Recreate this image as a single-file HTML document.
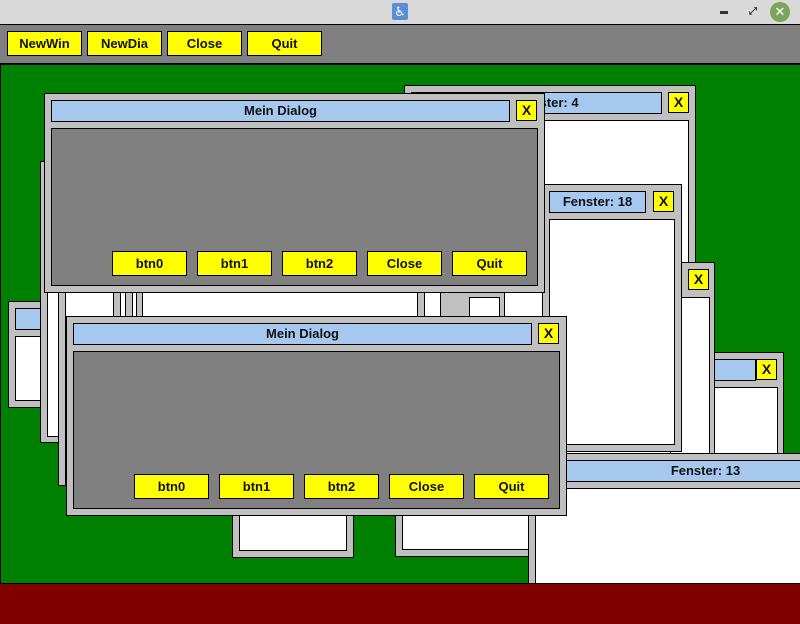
<!DOCTYPE html>
<html><head><meta charset="utf-8"><style>
*{margin:0;padding:0;box-sizing:border-box}
html,body{width:800px;height:624px;overflow:hidden}
body{position:relative;background:#008000;font-family:"Liberation Sans","DejaVu Sans",sans-serif;font-weight:bold;font-size:13px;color:#111}
#r{position:absolute;left:0;top:0;width:800px;height:624px;overflow:hidden}
div{position:absolute}
.w{background:#c0c0c0;border:1px solid #000;overflow:hidden}
.tb{background:#a6c8ee;border:1px solid #000;height:22px;line-height:20px;text-align:center;white-space:nowrap;overflow:hidden}
.x{background:#ff0;border:1px solid #000;width:21px;height:21px;line-height:19px;text-align:center;font-size:14px}
.ct{background:#fff;border:1px solid #000}
.dg{background:#808080;border:1px solid #000}
.b{background:#ff0;border:1px solid #000;height:25px;line-height:23px;text-align:center;width:75px}
.s{background:#c0c0c0;border:1px solid #000}
</style></head><body><div id="r">
<div style="left:0;top:0;width:800px;height:24px;background:#d9d9d9"></div>
<div style="left:392px;top:3px;width:16px;height:17px;background:#5c8fd8;color:#fff;font-size:13px;line-height:17px;text-align:center;border-radius:2px">♿</div>
<div style="left:720px;top:11px;width:8px;height:3px;background:#333"></div>
<div style="left:749px;top:8px;width:8px;height:8px;color:#333;font-size:10px;line-height:8px">⤢</div>
<div style="left:770px;top:2px;width:20px;height:20px;border-radius:50%;background:#7da55a;color:#fff;text-align:center;line-height:20px;font-size:13px">✕</div>
<div style="left:0;top:24px;width:800px;height:41px;background:#808080;border-top:1px solid #000;border-bottom:2px solid #000"></div>
<div class="b" style="left:7px;top:31px">NewWin</div>
<div class="b" style="left:87px;top:31px">NewDia</div>
<div class="b" style="left:167px;top:31px">Close</div>
<div class="b" style="left:247px;top:31px">Quit</div>
<div style="left:0;top:65px;width:1px;height:520px;background:#000"></div>

<div class="w" style="left:404px;top:85px;width:292px;height:400px"><div class="tb" style="left:6px;top:6px;width:251px;padding-left:22px">Fenster: 4</div><div class="x" style="left:263px;top:6px">X</div><div class="ct" style="left:6px;top:34px;width:278px;height:360px"></div></div>

<div class="w" style="left:8px;top:301px;width:60px;height:107px"><div class="tb" style="left:6px;top:6px;width:60px"></div><div class="ct" style="left:6px;top:34px;width:50px;height:65px"></div></div>
<div class="w" style="left:58px;top:160px;width:85px;height:326px"><div class="ct" style="left:6px;top:34px;width:72px;height:284px"></div></div>
<div class="w" style="left:40px;top:161px;width:80px;height:282px"><div class="ct" style="left:6px;top:34px;width:67px;height:241px"></div></div>
<div class="s" style="left:58px;top:290px;width:8px;height:196px;border-top:none"></div>
<div class="w" style="left:125px;top:200px;width:300px;height:200px"><div class="ct" style="left:6px;top:6px;width:287px;height:187px"></div></div>
<div class="s" style="left:136px;top:200px;width:7px;height:200px"></div>
<div class="s" style="left:113px;top:200px;width:8px;height:200px"></div>
<div class="w" style="left:417px;top:200px;width:52px;height:200px"><div class="ct" style="left:6px;top:6px;width:39px;height:187px"></div></div>
<div class="w" style="left:480px;top:200px;width:80px;height:200px"><div class="ct" style="left:6px;top:6px;width:70px;height:187px"></div></div>
<div class="w" style="left:440px;top:262px;width:65px;height:200px"><div class="ct" style="left:28px;top:34px;width:31px;height:160px"></div></div>

<div class="w" style="left:700px;top:352px;width:84px;height:200px"><div class="tb" style="left:6px;top:6px;width:49px"></div><div class="x" style="left:55px;top:6px">X</div><div class="ct" style="left:6px;top:34px;width:71px;height:160px"></div></div>
<div class="w" style="left:670px;top:262px;width:45px;height:220px"><div class="x" style="left:17px;top:6px">X</div><div class="ct" style="left:-2px;top:34px;width:41px;height:180px"></div></div>
<div class="w" style="left:542px;top:184px;width:140px;height:268px"><div class="tb" style="left:6px;top:6px;width:97px">Fenster: 18</div><div class="x" style="left:110px;top:6px">X</div><div class="ct" style="left:6px;top:34px;width:126px;height:226px"></div></div>
<div class="w" style="left:232px;top:480px;width:122px;height:78px"><div class="ct" style="left:6px;top:6px;width:108px;height:64px"></div></div>
<div class="w" style="left:395px;top:480px;width:150px;height:77px"><div class="ct" style="left:6px;top:6px;width:136px;height:63px"></div></div>
<div class="w" style="left:528px;top:453px;width:380px;height:200px"><div class="tb" style="left:6px;top:6px;width:341px">Fenster: 13</div><div class="ct" style="left:6px;top:34px;width:370px;height:160px"></div></div>

<div class="w" style="left:44px;top:93px;width:501px;height:200px">
<div class="tb" style="left:6px;top:6px;width:459px">Mein Dialog</div><div class="x" style="left:471px;top:6px">X</div>
<div class="dg" style="left:6px;top:34px;width:487px;height:158px"></div>
<div class="b" style="left:67px;top:157px">btn0</div><div class="b" style="left:152px;top:157px">btn1</div><div class="b" style="left:237px;top:157px">btn2</div><div class="b" style="left:322px;top:157px">Close</div><div class="b" style="left:407px;top:157px">Quit</div>
</div>
<div class="w" style="left:66px;top:316px;width:501px;height:200px">
<div class="tb" style="left:6px;top:6px;width:459px">Mein Dialog</div><div class="x" style="left:471px;top:6px">X</div>
<div class="dg" style="left:6px;top:34px;width:487px;height:158px"></div>
<div class="b" style="left:67px;top:157px">btn0</div><div class="b" style="left:152px;top:157px">btn1</div><div class="b" style="left:237px;top:157px">btn2</div><div class="b" style="left:322px;top:157px">Close</div><div class="b" style="left:407px;top:157px">Quit</div>
</div>

<div style="left:0;top:583px;width:800px;height:41px;background:#800000;border-top:1px solid #000"></div>
</div></body></html>
